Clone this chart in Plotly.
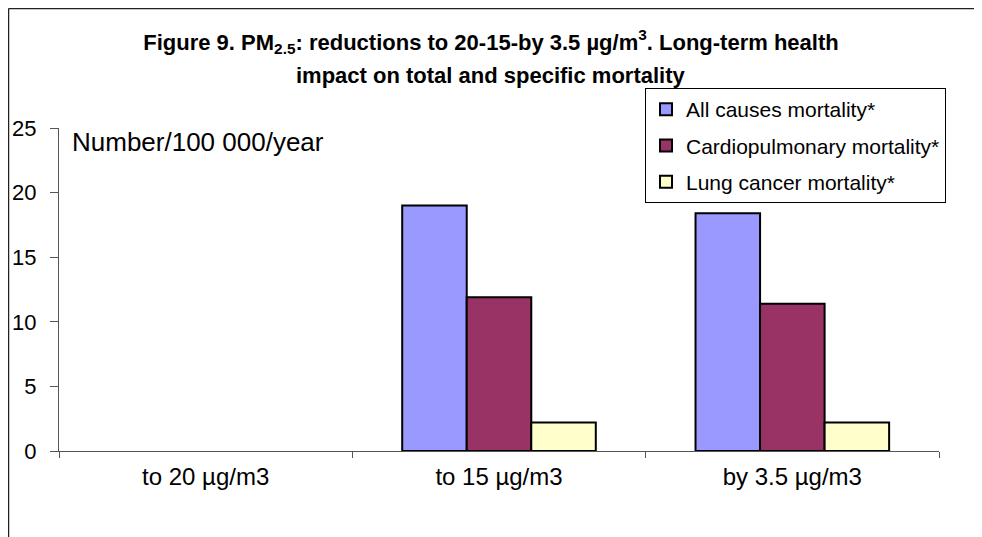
import plotly.graph_objects as go

categories = ["to 20 µg/m3", "to 15 µg/m3", "by 3.5 µg/m3"]
series_names = ["All causes mortality*", "Cardiopulmonary mortality*", "Lung cancer mortality*"]
all_causes = [None, 19.0, 18.4]
cardiopulmonary = [None, 11.9, 11.4]
lung_cancer = [None, 2.2, 2.2]
y_ticks = [0, 5, 10, 15, 20, 25]

colors = ["#9999FF", "#993366", "#FFFFCC"]
values = [all_causes, cardiopulmonary, lung_cancer]

FONT = "Liberation Sans, Arial, sans-serif"

fig = go.Figure()
for i, (name, vals) in enumerate(zip(series_names, values)):
    fig.add_trace(go.Bar(
        x=categories, y=vals, name=name,
        legendgroup=f"g{i}",
        marker=dict(color=colors[i], line=dict(color="#000000", width=2)),
    ))

# page is shown with an 8px body margin; work in page pixel coordinates
O = 8
PW, PH = 982, 537
W, H = PW - O, PH - O
# plot area in page coordinates
X0, X1, Y0, Y1 = 59, 939, 128, 451
L, R, T, B = X0 - O, PW - X1, Y0 - O, PH - Y1
pw, ph = X1 - X0, Y1 - Y0

def px(x):
    return (x - X0) / pw

def py(y):
    return (Y1 - y) / ph

fig.update_layout(
    width=W, height=H,
    margin=dict(l=L, r=R, t=T, b=B, autoexpand=False),
    paper_bgcolor="white", plot_bgcolor="white",
    barmode="group", bargap=0.34, bargroupgap=0,
    font=dict(family=FONT, color="#000000"),
    title=dict(
        text="<b>Figure 9. PM<sub>2.5</sub>: reductions to 20-15-by 3.5 µg/m<sup>3</sup>. Long-term health</b>",
        x=(491 - O) / W, xanchor="center", y=1 - (42 - O) / H, yanchor="middle",
        font=dict(family=FONT, size=22, color="#000000"),
    ),
    legend=dict(
        x=px(645), y=py(88), xanchor="left", yanchor="top",
        bordercolor="#000000", borderwidth=1, bgcolor="white",
        font=dict(family=FONT, size=21, color="#000000"),
        tracegroupgap=6, traceorder="grouped", itemwidth=30,
    ),
    showlegend=True,
)

fig.add_annotation(
    text="<b>impact on total and specific mortality</b>", xref="paper", yref="paper",
    x=px(491), y=py(76), xanchor="center", yanchor="middle",
    showarrow=False, font=dict(family=FONT, size=22, color="#000000"),
)

fig.update_xaxes(
    type="category", showline=True, linecolor="#555555", linewidth=1,
    ticks="outside", ticklen=6, tickcolor="#555555", tickson="boundaries",
    tickfont=dict(family=FONT, size=24, color="#000000"),
    ticklabelstandoff=4, showgrid=False, zeroline=False, automargin=False,
)
fig.update_yaxes(
    range=[0, 25], tickvals=y_ticks, showline=True, linecolor="#555555", linewidth=1,
    ticks="outside", ticklen=8, tickcolor="#555555",
    tickfont=dict(family=FONT, size=22, color="#000000"),
    ticklabelstandoff=9, showgrid=False, zeroline=False, automargin=False,
)

fig.add_annotation(
    text="Number/100 000/year", xref="paper", yref="paper",
    x=px(70), y=py(141.7), xanchor="left", yanchor="middle",
    showarrow=False, font=dict(family=FONT, size=26, color="#000000"),
)

# outer chart border (left and top edges visible)
fig.add_shape(type="line", xref="paper", yref="paper",
              x0=px(8.5), x1=px(8.5), y0=py(8.5), y1=py(PH + 5),
              line=dict(color="#222222", width=1.5))
fig.add_shape(type="line", xref="paper", yref="paper",
              x0=px(8.5), x1=px(PW + 5), y0=py(8.5), y1=py(8.5),
              line=dict(color="#222222", width=1.5))

fig.write_html("out.html")
